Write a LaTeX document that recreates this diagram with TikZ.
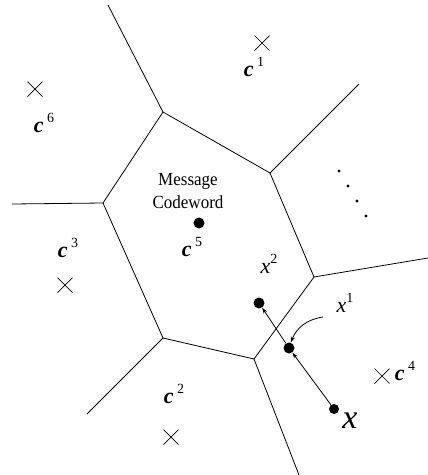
\documentclass[tikz,border=0pt]{standalone}
\usepackage{fontspec}
\setmainfont{Liberation Serif}
\usetikzlibrary{arrows.meta}
\newcommand{\clab}[1]{\fontsize{22}{22}\selectfont\bfseries\itshape c\,\raisebox{0.45em}{\fontsize{14}{14}\selectfont\mdseries\upshape #1}}
\newcommand{\xlab}[1]{\fontsize{22}{22}\selectfont\itshape x\raisebox{0.45em}{\fontsize{14}{14}\selectfont\upshape #1}}
\begin{document}
\begin{tikzpicture}[x=1pt,y=-1pt,
  edge/.style={line width=0.8pt},
  cross/.style={line width=0.7pt},
  lab/.style={inner sep=0pt},
  bigdot/.style={circle,fill=black,inner sep=0pt,minimum size=11pt},
  smalldot/.style={circle,fill=black,inner sep=0pt,minimum size=3.2pt},
  arr/.style={line width=0.8pt,-{Stealth[length=6pt,width=4pt]}}]
\useasboundingbox (0,0) rectangle (428,475);
% Voronoi vertices
\coordinate (v1) at (163,112);
\coordinate (v2) at (270,173);
\coordinate (v3) at (103,203);
\coordinate (v4) at (314,277);
\coordinate (v5) at (163,338);
\coordinate (v6) at (254,359);
\coordinate (e1) at (108,5);
\coordinate (e2) at (359,84);
\coordinate (e3) at (12,204);
\coordinate (e4) at (428,258);
\coordinate (e5) at (87,414);
\coordinate (e6) at (299,475);
\draw[edge] (e1) -- (v1) -- (v2) -- (e2);
\draw[edge] (v1) -- (v3) -- (e3);
\draw[edge] (v2) -- (v4) -- (e4);
\draw[edge] (v3) -- (v5) -- (e5);
\draw[edge] (v5) -- (v6) -- (v4);
\draw[edge] (v6) -- (e6);
% crosses
\foreach \n/\px/\py in {k1/262/43, k6/35/89, k3/65/285, k2/171/437, k4/382/376}{
  \coordinate (\n) at (\px,\py);
  \draw[cross] ([shift={(-7.5,-7.5)}]\n) -- ([shift={(7.5,7.5)}]\n);
  \draw[cross] ([shift={(-7.5,7.5)}]\n) -- ([shift={(7.5,-7.5)}]\n);
}
% labels
\node[lab] (c1) at (254,67) {\clab{1}};
\node[lab] (c6) at (44,123) {\clab{6}};
\node[lab] (c3) at (68,248) {\clab{3}};
\node[lab] (c5) at (192,247) {\clab{5}};
\node[lab] (c2) at (174,394) {\clab{2}};
\node[lab] (c4) at (405,371) {\clab{4}};
\node[lab,align=center,font=\fontsize{18.5}{22.5}\selectfont] (msg) at (188,191) {\scalebox{0.92}[1]{Message}\\\scalebox{0.92}[1]{Codeword}};
\node[bigdot] (c5dot) at (199,223) {};
% ellipsis
\foreach \n/\px/\py in {d1/339/171, d2/348/186, d3/357/201, d4/366/216}{
  \node[smalldot] (\n) at (\px,\py) {};
}
% moving points
\node[bigdot] (x2) at (259,303) {};
\node[bigdot] (x1) at (289,348) {};
\node[bigdot,minimum size=10pt] (x0) at (334,409) {};
\node[lab] (x2l) at (269,264) {\xlab{2}};
\node[lab] (x1l) at (345,303) {\xlab{1}};
\node[lab,font=\fontsize{34}{34}\selectfont\itshape] (xl) at (350,421) {x};
\coordinate (ca) at (323,317);
\draw[arr] (x0) -- (x1);
\draw[arr] (x1) -- (x2);
\draw[arr] (ca) to[bend right=30] (x1);
\end{tikzpicture}
\end{document}
